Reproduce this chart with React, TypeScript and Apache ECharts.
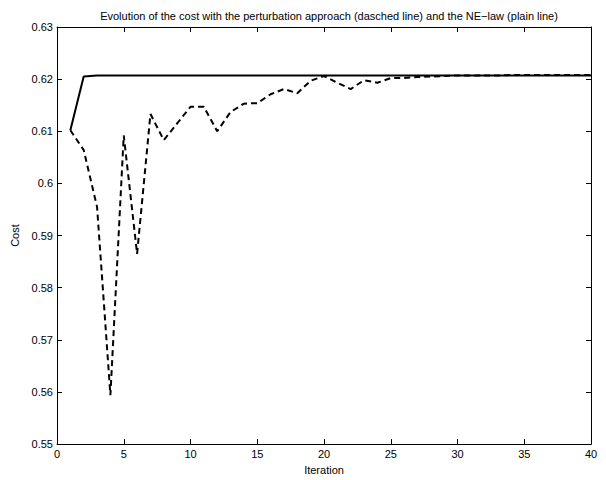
import React, { useEffect, useRef } from "react";
import * as echarts from "echarts";

const iterations = [1,2,3,4,5,6,7,8,9,10,11,12,13,14,15,16,17,18,19,20,21,22,23,24,25,26,27,28,29,30,31,32,33,34,35,36,37,38,39,40];
const neLaw = [0.6102,0.6205,0.6207,0.6207,0.6207,0.6207,0.6207,0.6207,0.6207,0.6207,0.6207,0.6207,0.6207,0.6207,0.6207,0.6207,0.6207,0.6207,0.6207,0.6207,0.6207,0.6207,0.6207,0.6207,0.6207,0.6207,0.6207,0.6207,0.6207,0.6207,0.6207,0.6207,0.6207,0.6207,0.6207,0.6207,0.6207,0.6207,0.6207,0.6207];
const perturbation = [0.6102,0.6064,0.5955,0.5594,0.6092,0.5865,0.6133,0.6083,0.6115,0.6147,0.6147,0.6100,0.6137,0.6153,0.6154,0.6171,0.6181,0.6173,0.6197,0.6206,0.6193,0.6181,0.6198,0.6193,0.6202,0.6202,0.6204,0.6205,0.6206,0.6207,0.6207,0.6207,0.6207,0.6208,0.6208,0.6208,0.6208,0.6208,0.6208,0.6208];

const titleText = "Evolution of the cost with the perturbation approach (dasched line) and the NE\u2212law (plain line)";
const FONT = "Liberation Sans, Arial, sans-serif";

export default function App() {
  const ref = useRef<HTMLDivElement>(null);
  useEffect(() => {
    if (!ref.current) return;
    const chart = echarts.init(ref.current, undefined, { renderer: "svg" });
    const axisLine = () => ({ show: true, onZero: false, lineStyle: { color: "#000", width: 1 } });
    const tick = () => ({ show: true, inside: true, length: 5, lineStyle: { color: "#000", width: 1 } });
    const lab = () => ({ color: "#000", fontSize: 11, fontFamily: FONT });
    chart.setOption({
      animation: false,
      backgroundColor: "#fff",
      title: {
        text: titleText,
        left: 324,
        textAlign: "center",
        top: 5,
        textStyle: { fontSize: 11, fontWeight: "normal", color: "#000", fontFamily: FONT },
      },
      grid: { left: 57, right: 15, top: 27, bottom: 30, containLabel: false },
      xAxis: [
        {
          type: "value", position: "bottom", min: 0, max: 40, interval: 5,
          axisLine: axisLine(), axisTick: tick(), splitLine: { show: false },
          axisLabel: { ...lab(), margin: 4 },
          name: "Iteration", nameLocation: "middle", nameGap: 16,
          nameTextStyle: lab(),
        },
        {
          type: "value", position: "top", min: 0, max: 40, interval: 5,
          axisLine: axisLine(), axisTick: tick(), splitLine: { show: false }, axisLabel: { show: false },
        },
      ],
      yAxis: [
        {
          type: "value", position: "left", min: 0.55, max: 0.63, interval: 0.01,
          axisLine: axisLine(), axisTick: tick(), splitLine: { show: false },
          axisLabel: { ...lab(), margin: 4, formatter: (v: number) => String(parseFloat(v.toFixed(2))) },
          name: "Cost", nameLocation: "middle", nameGap: 33, nameRotate: 90,
          nameTextStyle: lab(),
        },
        {
          type: "value", position: "right", min: 0.55, max: 0.63, interval: 0.01,
          axisLine: axisLine(), axisTick: tick(), splitLine: { show: false }, axisLabel: { show: false },
        },
      ],
      series: [
        {
          type: "line", name: "NE-law",
          data: iterations.map((x, i) => [x, neLaw[i]]),
          showSymbol: false, symbol: "none",
          lineStyle: { color: "#000", width: 2, type: "solid" },
        },
        {
          type: "line", name: "perturbation",
          data: iterations.map((x, i) => [x, perturbation[i]]),
          showSymbol: false, symbol: "none",
          lineStyle: { color: "#000", width: 2, type: [6, 4] },
        },
      ],
    });
    return () => chart.dispose();
  }, []);
  return <div ref={ref} style={{ width: 606, height: 480, position: "absolute", left: 0, top: 0 }} />;
}
